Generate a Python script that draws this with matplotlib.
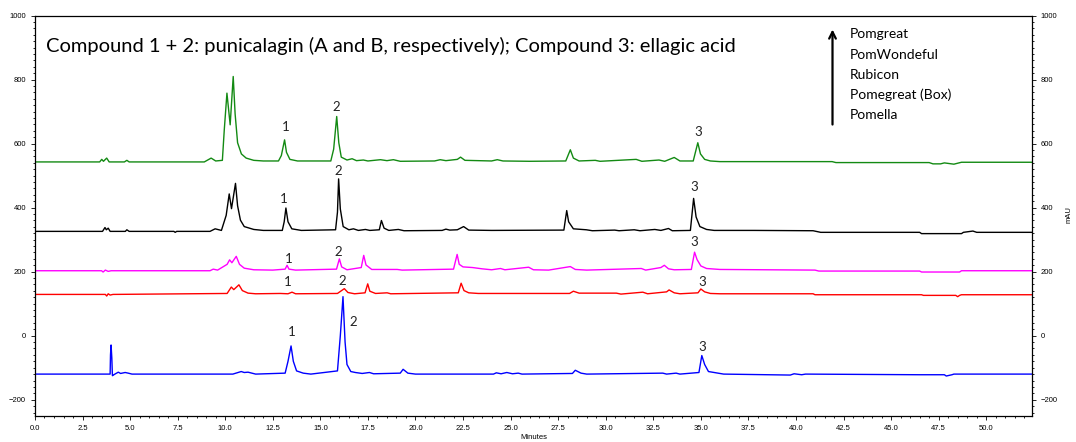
import numpy as np
import matplotlib
matplotlib.use("Agg")
import matplotlib.pyplot as plt
from matplotlib.ticker import MultipleLocator, FormatStrFormatter

# chromatograms (minutes, mAU above own baseline)
pomgreat = [
    (0, 0), (3.40, 0), (3.51, 8), (3.60, 2), (3.77, 12), (3.90, 0), (4.70, 0), (4.83, 5), (4.95, 0),
    (8.90, 0), (9.26, 12), (9.50, 3), (9.85, 5), (9.95, 100), (10.09, 215), (10.26, 116), (10.42, 267),
    (10.52, 150), (10.65, 60), (10.85, 25), (11.10, 12), (11.50, 5), (12.00, 3), (12.80, 3), (12.95, 20),
    (13.12, 69), (13.22, 30), (13.40, 8), (13.80, 3), (15.55, 3), (15.70, 40), (15.86, 142), (15.97, 60),
    (16.10, 15), (16.40, 6), (16.67, 10), (16.90, 4), (17.26, 6), (17.50, 3), (18.16, 7), (18.50, 4),
    (18.84, 7), (19.20, 2), (21.00, 3), (21.30, 7), (21.60, 4), (22.20, 8), (22.37, 15), (22.60, 5),
    (24.00, 3), (24.30, 7), (24.60, 3), (26.00, 2), (27.90, 3), (28.14, 38), (28.30, 12), (28.60, 3),
    (29.45, 5), (29.70, 2), (31.60, 8), (31.90, 2), (32.80, 6), (33.10, 2), (33.60, 14), (33.90, 3),
    (34.60, 3), (34.84, 60), (34.98, 25), (35.20, 8), (35.50, 3), (36.00, 1), (41.90, 1), (42.10, -2),
    (47.00, -2), (47.20, -6), (47.60, -6), (47.80, -3), (48.30, -7), (48.50, -4), (48.70, -1), (52.40, -1),
]
pomwonderful = [
    (0, 0), (3.55, 0), (3.68, 12), (3.75, 5), (3.85, 10), (3.95, 0), (4.75, 0), (4.83, 5), (4.95, 0),
    (7.30, 0), (7.37, -3), (7.45, 0), (9.20, 0), (9.47, 8), (9.80, 3), (10.05, 50), (10.21, 117),
    (10.33, 71), (10.54, 150), (10.65, 80), (10.80, 35), (11.00, 15), (11.50, 6), (12.00, 3), (13.00, 3),
    (13.10, 30), (13.19, 73), (13.30, 30), (13.50, 8), (14.00, 3), (15.80, 5), (15.90, 60), (15.96, 164),
    (16.05, 70), (16.20, 15), (16.50, 5), (16.74, 8), (17.00, 3), (17.37, 6), (17.60, 3), (18.10, 5),
    (18.21, 34), (18.35, 10), (18.60, 3), (19.10, 6), (19.40, 2), (21.40, 3), (21.60, 7), (21.80, 4),
    (22.20, 5), (22.53, 15), (22.80, 4), (24.00, 3), (27.80, 4), (27.95, 65), (28.05, 30), (28.30, 8),
    (28.98, 5), (29.30, 2), (30.47, 4), (30.70, 2), (31.50, 5), (31.80, 2), (32.58, 6), (32.90, 3),
    (33.30, 9), (33.50, 2), (34.45, 3), (34.62, 103), (34.75, 45), (34.95, 15), (35.30, 6), (35.70, 3),
    (37.80, 3), (40.90, 2), (41.30, -3), (46.50, -3), (46.60, -7), (48.70, -7), (48.80, -3), (49.30, 1),
    (49.50, -3), (52.40, -3),
]
rubicon = [
    (0, 0), (3.50, 0), (3.58, -4), (3.70, 2), (3.85, -2), (4.00, 0), (9.20, 0), (9.37, 5), (9.60, 2),
    (10.10, 20), (10.23, 34), (10.35, 25), (10.58, 45), (10.75, 20), (11.00, 8), (11.50, 3), (12.50, 2),
    (13.15, 5), (13.25, 17), (13.35, 5), (13.70, 2), (15.85, 5), (16.00, 37), (16.12, 12), (16.40, 3),
    (17.15, 10), (17.28, 48), (17.40, 18), (17.70, 4), (19.04, 4), (19.30, 2), (22.00, 5), (22.19, 51),
    (22.30, 20), (22.50, 12), (23.00, 10), (23.50, 6), (24.00, 3), (24.47, 7), (24.70, 3), (25.95, 11),
    (26.20, 3), (27.00, 2), (28.14, 13), (28.40, 4), (29.00, 2), (31.87, 7), (32.10, 2), (32.90, 10),
    (33.08, 17), (33.30, 6), (33.60, 3), (34.50, 4), (34.67, 58), (34.80, 35), (35.00, 15), (35.30, 7),
    (36.00, 4), (41.00, 2), (41.20, -1), (46.50, -1), (46.60, -4), (48.60, -4), (48.70, 0), (52.40, 0),
]
pomegreat_box = [
    (0, 0), (3.70, 0), (3.77, -5), (3.85, 2), (3.95, -2), (4.10, 0), (10.10, 3), (10.32, 23), (10.45, 15),
    (10.72, 30), (10.90, 12), (11.20, 4), (11.60, 2), (12.90, 3), (13.30, 2), (13.51, 7), (13.70, 2),
    (15.90, 3), (16.26, 18), (16.45, 6), (16.80, 2), (17.35, 5), (17.49, 33), (17.60, 10), (17.90, 3),
    (18.51, 5), (18.70, 2), (22.25, 5), (22.40, 35), (22.55, 12), (22.80, 5), (23.30, 3), (28.10, 3),
    (28.30, 10), (28.60, 4), (30.56, 4), (30.80, 1), (31.95, 7), (32.20, 2), (33.20, 8), (33.33, 14),
    (33.60, 5), (33.90, 2), (34.85, 5), (35.00, 17), (35.20, 8), (35.50, 3), (36.00, 2), (40.90, 2),
    (41.00, -1), (46.60, -1), (46.70, -3), (48.40, -3), (48.50, -7), (48.60, -3), (48.70, -1), (52.40, -1),
]
pomella = [
    (0, 0), (3.95, 0), (3.97, 60), (4.00, 91), (4.04, 50), (4.07, -5), (4.12, -3), (4.20, 0), (4.38, 6),
    (4.50, 2), (4.74, 5), (4.90, 3), (5.10, 0), (10.40, 0), (10.84, 8), (11.00, 5), (11.20, 6), (11.60, 0),
    (13.15, 3), (13.30, 40), (13.46, 88), (13.58, 40), (13.75, 10), (14.10, 3), (14.50, 0), (15.90, 10),
    (16.05, 120), (16.19, 242), (16.30, 100), (16.40, 30), (16.60, 8), (16.84, 5), (17.20, 2), (17.58, 5),
    (17.80, 1), (19.20, 3), (19.35, 15), (19.60, 3), (20.00, 0), (24.10, 0), (24.25, 4), (24.50, 1),
    (24.80, 5), (25.10, 1), (25.40, 3), (25.60, 0), (28.25, 2), (28.40, 12), (28.70, 3), (29.00, 0),
    (33.00, 3), (33.20, 0), (33.70, 3), (33.90, 0), (34.90, 5), (35.05, 58), (35.20, 30), (35.40, 8),
    (35.90, 3), (36.20, 0), (39.70, -3), (39.90, 1), (40.30, -2), (40.50, 0), (46.50, -2), (47.80, -2),
    (47.90, -6), (48.20, -2), (48.30, 0), (52.40, 0),
]

names = ["Pomgreat", "PomWondeful", "Rubicon", "Pomegreat (Box)", "Pomella"]
traces = [pomgreat, pomwonderful, rubicon, pomegreat_box, pomella]
baselines = [543, 326, 203, 129, -120]
colors = ["#138a13", "#000000", "#ff00ff", "#ff0000", "#0000ff"]

# compound labels: (minutes, mAU) for peaks 1, 2, 3 of each trace
peak_labels = ["1", "2", "3"]
label_t = [
    [13.16, 15.84, 34.84],
    [13.10, 15.96, 34.65],
    [13.33, 15.96, 34.65],
    [13.30, 16.14, 35.05],
    [13.47, 16.72, 35.05],
]
label_y = [
    [652, 715, 637],
    [426, 516, 464],
    [239, 262, 292],
    [169, 172, 169],
    [11, 42, -34],
]

title = "Compound 1 + 2: punicalagin (A and B, respectively); Compound 3: ellagic acid"

fig = plt.figure(figsize=(10.76, 4.42), dpi=100)
ax = fig.add_axes([0.0325, 0.0595, 0.9265, 0.905])

for tr, base, col in zip(traces, baselines, colors):
    t, y = np.array(tr).T
    ax.plot(t, y + base, color=col, lw=1.0)

for lt, ly in zip(label_t, label_y):
    for txt, x, y in zip(peak_labels, lt, ly):
        ax.text(x, y, txt, ha="center", va="center", fontsize=9.5,
                family="Lato", color="#222222")

ax.set_xlim(0, 52.4)
ax.set_ylim(-250, 1000)

ax.xaxis.set_major_locator(MultipleLocator(2.5))
ax.xaxis.set_minor_locator(MultipleLocator(0.5))
ax.xaxis.set_major_formatter(FormatStrFormatter("%.1f"))
ax.yaxis.set_major_locator(MultipleLocator(200))
ax.yaxis.set_minor_locator(MultipleLocator(20))
ax.tick_params(which="both", direction="out", width=0.6, labelsize=5.5,
               left=True, right=True, labelleft=True, labelright=True)
ax.tick_params(which="major", length=3)
ax.tick_params(which="minor", length=1.6)
for lab in ax.get_xticklabels() + ax.get_yticklabels():
    lab.set_family("Liberation Sans")
for sp in ax.spines.values():
    sp.set_linewidth(0.9)

ax.set_xlabel("Minutes", fontsize=5.5, family="Liberation Sans", labelpad=1.5)
fig.text(1066 / 1076, 1 - 215 / 442, "mAU", rotation=90, fontsize=5.5,
         family="Liberation Sans", ha="left", va="center")

ax.text(0.011, 0.91, title, transform=ax.transAxes, fontsize=14.5,
        family="Lato", va="baseline", ha="left")

# sample order arrow and names
ax.annotate("", xy=(0.80, 0.9725), xytext=(0.80, 0.721), xycoords="axes fraction",
            arrowprops=dict(arrowstyle="->", lw=1.6, color="black", mutation_scale=12))
for i, nm in enumerate(names):
    ax.text(0.8175, 0.9435 - i * 0.0506, nm, transform=ax.transAxes,
            fontsize=10, family="Lato", va="baseline", ha="left")

fig.savefig("out.png", dpi=100)
